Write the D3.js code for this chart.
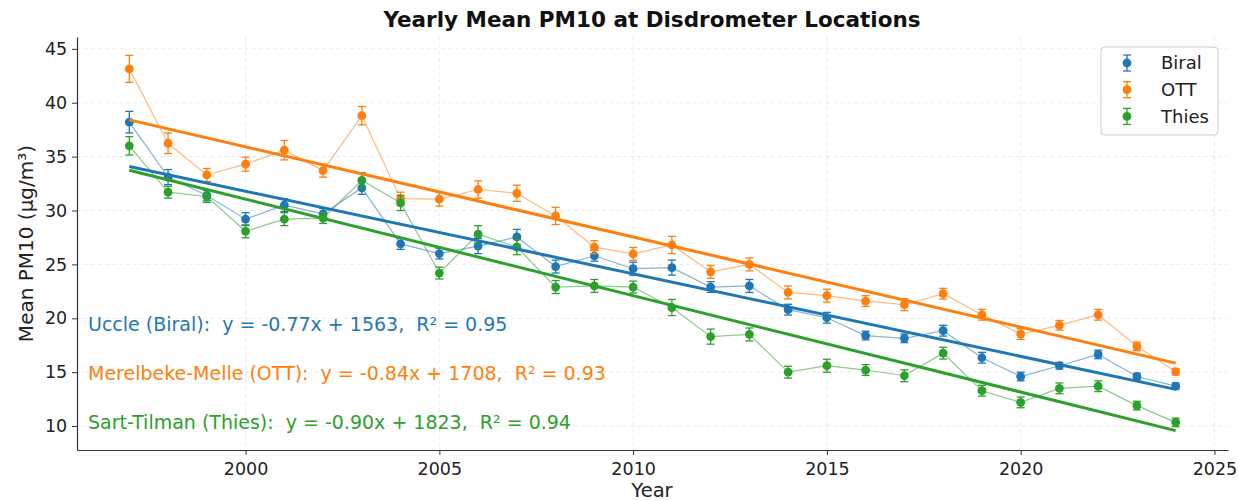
<!DOCTYPE html>
<html><head><meta charset="utf-8">
<script src="https://cdn.jsdelivr.net/npm/d3@7"></script>
<style>body{margin:0;background:#fff;} text{font-family:"DejaVu Sans",sans-serif;}</style>
</head><body><svg id="c" width="1238" height="501"></svg>
<script>
const years = d3.range(1997, 2025);
const biral = [38.2,33.1,31.4,29.2,30.5,29.7,32.1,26.9,26.0,26.7,27.55,24.8,25.8,24.6,24.7,22.9,23.0,20.8,20.05,18.4,18.14,18.85,16.34,14.6,15.6,16.65,14.6,13.7];
const ott   = [43.14,36.24,33.3,34.3,35.6,33.7,38.8,31.1,31.05,31.95,31.6,29.5,26.6,25.97,26.8,24.3,25.0,22.4,22.1,21.6,21.26,22.28,20.33,18.54,19.35,20.33,17.4,15.04];
const thies = [36.0,31.7,31.3,28.07,29.2,29.3,32.8,30.7,24.2,27.8,26.6,22.9,23.0,22.9,21.0,18.3,18.5,15.0,15.6,15.2,14.67,16.77,13.28,12.2,13.5,13.7,11.9,10.34];
const biralErr = [1.0,0.7,0.5,0.6,0.6,0.5,0.6,0.5,0.5,0.7,0.7,0.6,0.5,0.6,0.7,0.5,0.6,0.5,0.5,0.4,0.4,0.5,0.5,0.4,0.3,0.4,0.3,0.3];
const ottErr   = [1.25,0.95,0.6,0.65,0.9,0.6,0.85,0.6,0.65,0.8,0.75,0.8,0.6,0.6,0.8,0.6,0.6,0.6,0.6,0.5,0.55,0.5,0.5,0.5,0.45,0.5,0.4,0.3];
const thiesErr = [0.85,0.55,0.55,0.6,0.6,0.5,0.7,0.7,0.55,0.8,0.7,0.6,0.6,0.55,0.75,0.7,0.6,0.55,0.6,0.5,0.55,0.55,0.5,0.5,0.5,0.5,0.4,0.4];
const seriesNames = ["Biral","OTT","Thies"];
const colors = ["#1f77b4","#ff7f0e","#2ca02c"];
const fitLabels = ["Uccle (Biral):  y = -0.77x + 1563,  R² = 0.95",
                   "Merelbeke-Melle (OTT):  y = -0.84x + 1708,  R² = 0.93",
                   "Sart-Tilman (Thies):  y = -0.90x + 1823,  R² = 0.94"];
const xTicks = [2000,2005,2010,2015,2020,2025];
const yTicks = [10,15,20,25,30,35,40,45];

const svg = d3.select("#c");
const L=77, R=1228, T=37, B=450;
const x = d3.scaleLinear().domain([1995.65,2025.35]).range([L,R]);
const y = d3.scaleLinear().domain([7.78,46.1]).range([B,T]);

// grid
const g = svg.append("g");
g.selectAll(".gx").data(xTicks).join("line").attr("x1",d=>x(d)).attr("x2",d=>x(d)).attr("y1",T).attr("y2",B)
 .attr("stroke","#b0b0b0").attr("stroke-opacity",0.3).attr("stroke-dasharray","4,3").attr("stroke-width",0.8);
g.selectAll(".gy").data(yTicks).join("line").attr("x1",L).attr("x2",R).attr("y1",d=>y(d)).attr("y2",d=>y(d))
 .attr("stroke","#b0b0b0").attr("stroke-opacity",0.3).attr("stroke-dasharray","4,3").attr("stroke-width",0.8);

// axes
const xa = svg.append("g").attr("transform",`translate(0,${B})`).call(d3.axisBottom(x).tickValues(xTicks).tickFormat(d3.format("d")).tickSize(5).tickSizeOuter(0));
const ya = svg.append("g").attr("transform",`translate(${L},0)`).call(d3.axisLeft(y).tickValues(yTicks).tickSize(5).tickSizeOuter(0));
[xa,ya].forEach(a=>{a.select(".domain").attr("stroke","#333").attr("stroke-width",1.2);
  a.selectAll(".tick line").attr("stroke","#333");
  a.selectAll(".tick text").attr("font-size",17.5).attr("fill","#222").style("font-family","DejaVu Sans");});
xa.selectAll(".tick text").attr("dy","0.95em");
ya.selectAll(".tick text").attr("dx","-0.1em");

const all = [[biral,biralErr],[ott,ottErr],[thies,thiesErr]];
all.forEach(([vals,errs],i)=>{
  const c = colors[i];
  const pts = years.map((yr,k)=>({yr,v:vals[k],e:errs[k]}));
  svg.append("path").datum(pts).attr("fill","none").attr("stroke",c).attr("stroke-width",1.2).attr("stroke-opacity",0.55)
    .attr("d",d3.line().x(d=>x(d.yr)).y(d=>y(d.v)));
  const eb = svg.append("g").attr("stroke",c).attr("stroke-width",1.3);
  eb.selectAll(".v").data(pts).join("line").attr("x1",d=>x(d.yr)).attr("x2",d=>x(d.yr)).attr("y1",d=>y(d.v-d.e)).attr("y2",d=>y(d.v+d.e));
  eb.selectAll(".c1").data(pts).join("line").attr("x1",d=>x(d.yr)-4).attr("x2",d=>x(d.yr)+4).attr("y1",d=>y(d.v-d.e)).attr("y2",d=>y(d.v-d.e));
  eb.selectAll(".c2").data(pts).join("line").attr("x1",d=>x(d.yr)-4).attr("x2",d=>x(d.yr)+4).attr("y1",d=>y(d.v+d.e)).attr("y2",d=>y(d.v+d.e));
  svg.append("g").selectAll("circle").data(pts).join("circle").attr("cx",d=>x(d.yr)).attr("cy",d=>y(d.v)).attr("r",4.4).attr("fill",c);
});
// fit lines (least squares from data)
all.forEach(([vals],i)=>{
  const n=years.length, mx=d3.mean(years), my=d3.mean(vals);
  let sxy=0,sxx=0; years.forEach((yr,k)=>{sxy+=(yr-mx)*(vals[k]-my); sxx+=(yr-mx)**2;});
  const m=sxy/sxx, b=my-m*mx;
  const ends=[years[0],years[n-1]];
  svg.append("line").attr("x1",x(ends[0])).attr("x2",x(ends[1])).attr("y1",y(m*ends[0]+b)).attr("y2",y(m*ends[1]+b))
    .attr("stroke",colors[i]).attr("stroke-width",3);
});
// annotations
const annY=[19.4,14.85,10.3];
fitLabels.forEach((t,i)=>{
  svg.append("text").attr("x",88).attr("y",y(annY[i])).attr("dy","0.35em").attr("font-size",19).attr("fill",colors[i])
    .style("white-space","pre").attr("xml:space","preserve").text(t);
});
// title & labels
svg.append("text").attr("x",652).attr("y",27).attr("text-anchor","middle").attr("font-size",21.5).attr("font-weight","bold").attr("fill","#111").text("Yearly Mean PM10 at Disdrometer Locations");
svg.append("text").attr("x",652).attr("y",497).attr("text-anchor","middle").attr("font-size",19.5).attr("fill","#222").text("Year");
svg.append("text").attr("transform",`translate(33,${(T+B)/2}) rotate(-90)`).attr("text-anchor","middle").attr("font-size",20).attr("fill","#222").text("Mean PM10 (µg/m³)");

// legend
const lg = svg.append("g");
lg.append("rect").attr("x",1101).attr("y",47).attr("width",117).attr("height",88).attr("rx",4).attr("fill","#fff").attr("fill-opacity",0.8).attr("stroke","#ccc");
seriesNames.forEach((s,i)=>{
  const cy=63+i*26.7, cx=1127;
  const gg=lg.append("g").attr("stroke",colors[i]).attr("stroke-width",1.3);
  gg.append("line").attr("x1",cx).attr("x2",cx).attr("y1",cy-8).attr("y2",cy+8);
  gg.append("line").attr("x1",cx-4).attr("x2",cx+4).attr("y1",cy-8).attr("y2",cy-8);
  gg.append("line").attr("x1",cx-4).attr("x2",cx+4).attr("y1",cy+8).attr("y2",cy+8);
  lg.append("circle").attr("cx",cx).attr("cy",cy).attr("r",4.4).attr("fill",colors[i]);
  lg.append("text").attr("x",1161).attr("y",cy).attr("dy","0.35em").attr("font-size",18).attr("fill","#222").text(s);
});
</script></body></html>
